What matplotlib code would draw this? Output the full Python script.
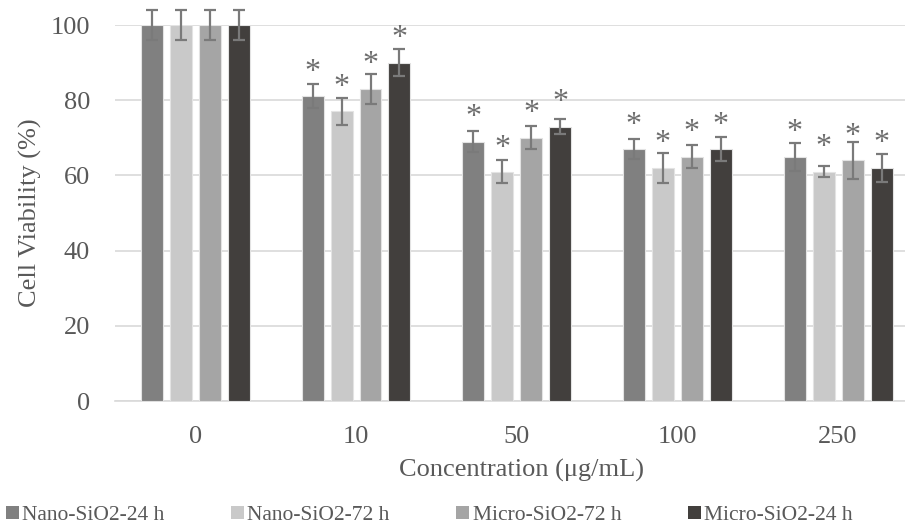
import matplotlib
matplotlib.use("Agg")
import matplotlib.pyplot as plt
import matplotlib.transforms as mtransforms
import numpy as np
from matplotlib.patches import Patch

# data
concentrations = ["0", "10", "50", "100", "250"]
series_names = ["Nano-SiO2-24 h", "Nano-SiO2-72 h", "Micro-SiO2-72 h", "Micro-SiO2-24 h"]
nano_24 = [100, 81, 69, 67, 65]
nano_72 = [100, 77, 61, 62, 61]
micro_72 = [100, 83, 70, 65, 64]
micro_24 = [100, 90, 73, 67, 62]
nano_24_err = [4, 3.2, 2.8, 2.7, 3.7]
nano_72_err = [4, 3.6, 3.1, 3.9, 1.4]
micro_72_err = [4, 4.0, 3.1, 3.0, 5.0]
micro_24_err = [4, 3.5, 2.1, 3.1, 3.8]
# height of the significance asterisks (centre, in % units)
nano_24_star = [None, 88.6, 76.8, 74.7, 72.7]
nano_72_star = [None, 84.8, 68.5, 69.7, 68.8]
micro_72_star = [None, 90.7, 77.7, 72.7, 71.6]
micro_24_star = [None, 97.8, 80.7, 74.7, 69.7]

values = [nano_24, nano_72, micro_72, micro_24]
errors = [nano_24_err, nano_72_err, micro_72_err, micro_24_err]
stars = [nano_24_star, nano_72_star, micro_72_star, micro_24_star]
colors = ["#808080", "#c9c9c9", "#a5a5a5", "#423f3d"]

txt = "#595959"
plt.rcParams['font.family'] = ['Liberation Serif', 'DejaVu Serif']

fig = plt.figure(figsize=(9.05, 5.28), dpi=100)
ax = fig.add_axes([115/905., 127/528., 790/905., 376/528.])

# asterisk glyph sits high in its box, pull it down a bit
star_tr = mtransforms.offset_copy(ax.transData, fig=fig, x=0, y=-3.6, units="points")

x = np.arange(len(concentrations))
pitch = 29/160.75
width = 22/160.75
for i in range(4):
    pos = x + (i - 1.5)*pitch
    ax.bar(pos, values[i], width, color=colors[i], edgecolor="#e3e3e3", linewidth=0.8, zorder=3)
    ax.errorbar(pos, values[i], yerr=errors[i], fmt="none", ecolor="#7a7a7a",
                elinewidth=1.6, capsize=4, capthick=1.6, zorder=4, clip_on=False)
    for p, s in zip(pos, stars[i]):
        if s is not None:
            ax.text(p, s, "*", ha="center", va="center", fontsize=23, color="#6e6e6e",
                    zorder=5, transform=star_tr)

ax.set_xlim(-0.5, (905-195)/160.75)
ax.set_ylim(0, 100)
ax.set_yticks([0, 20, 40, 60, 80, 100])
ax.set_xticks(x)
ax.set_xticklabels(concentrations)
ax.tick_params(axis="both", length=0, labelsize=19, labelcolor=txt)
ax.tick_params(axis="x", pad=18)
ax.tick_params(axis="y", pad=18)
ax.grid(axis="y", color="#d9d9d9", linewidth=1.2, zorder=0)
for side in ["top", "right", "left"]:
    ax.spines[side].set_visible(False)
ax.spines["bottom"].set_color("#d9d9d9")
ax.spines["bottom"].set_linewidth(1.2)

ax.set_ylabel("Cell Viability (%)", fontsize=19, color=txt)
ax.yaxis.set_label_coords(-0.092, 0.5)
ax.set_xlabel("Concentration (μg/mL)", fontsize=19, color=txt)
ax.xaxis.set_label_coords(0.515, -0.154)

handles = [Patch(facecolor=c, edgecolor="none") for c in colors]
fig.legend(handles, series_names, loc="center left", bbox_to_anchor=(-0.003, 0.024),
           ncol=4, frameon=False, fontsize=15.5, handlelength=0.6, handleheight=0.6,
           handletextpad=0.15, columnspacing=3.1, labelcolor=txt, borderaxespad=0)

fig.savefig("out.png", dpi=100)
